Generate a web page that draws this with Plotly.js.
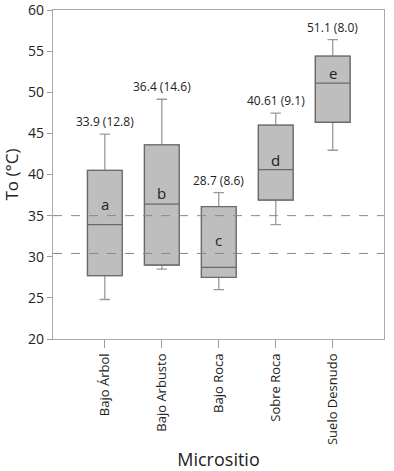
<!DOCTYPE html>
<html><head><meta charset="utf-8">
<script src="https://cdn.plot.ly/plotly-3.0.1.min.js"></script>
<style>html,body{margin:0;padding:0;background:#fff}#c{width:394px;height:471px}</style>
</head><body><div id="c"></div>
<script>
const categories = ["Bajo Árbol", "Bajo Arbusto", "Bajo Roca", "Sobre Roca", "Suelo Desnudo"];
const lowerWhisker = [24.8, 28.5, 26.0, 33.9, 42.95];
const q1 = [27.7, 29.0, 27.5, 36.9, 46.35];
const median = [33.9, 36.4, 28.7, 40.6, 51.1];
const q3 = [40.5, 43.6, 36.1, 46.0, 54.4];
const upperWhisker = [44.9, 49.15, 37.8, 47.45, 56.4];
const summaryLabels = ["33.9 (12.8)", "36.4 (14.6)", "28.7 (8.6)", "40.61 (9.1)", "51.1 (8.0)"];
const groupLetters = ["a", "b", "c", "d", "e"];
const letterY = [36.4, 37.8, 32.05, 41.8, 52.3];
const refLines = [35, 30.4];
const yTicks = [20, 25, 30, 35, 40, 45, 50, 55, 60];

const font = "Open Sans, Noto Sans, sans-serif";

const whiskerTrace = {
  type: "box", x: categories, q1: q1, median: median, q3: q3,
  lowerfence: lowerWhisker, upperfence: upperWhisker,
  fillcolor: "#bebebe", line: {color: "#9a9a9a", width: 1.3},
  whiskerwidth: 0.3, width: 0.61, boxpoints: false, hoverinfo: "skip", showlegend: false
};
const boxTrace = {
  type: "box", x: categories, q1: q1, median: median, q3: q3,
  lowerfence: q1, upperfence: q3,
  fillcolor: "#bebebe", line: {color: "#6a6a6a", width: 1.3},
  whiskerwidth: 0, width: 0.61, boxpoints: false, hoverinfo: "skip", showlegend: false
};

const annotations = [];
categories.forEach((c, i) => {
  annotations.push({x: c, y: upperWhisker[i], text: summaryLabels[i], showarrow: false,
    yanchor: "bottom", yshift: 2, font: {family: font, size: 12, color: "#222"}});
  annotations.push({x: c, y: letterY[i], text: groupLetters[i], showarrow: false,
    font: {family: font, size: 15, color: "#222"}});
});

const shapes = refLines.map(v => ({type: "line", xref: "paper", x0: 0, x1: 1, y0: v, y1: v,
  line: {color: "#888", width: 1, dash: "dash"}}));

const layout = {
  width: 394, height: 471,
  margin: {l: 53, r: 10, t: 10, b: 132},
  paper_bgcolor: "#fff", plot_bgcolor: "#fff",
  font: {family: font, color: "#222"},
  xaxis: {type: "category", categoryarray: categories, range: [-0.91, 4.9],
    tickangle: -90, ticks: "outside", ticklen: 8, tickcolor: "#999",
    showline: true, linecolor: "#aaa", linewidth: 1.3, mirror: true, showgrid: false,
    tickfont: {family: font, size: 13, color: "#222"},
    title: {text: "Micrositio", font: {family: font, size: 18, color: "#222"}, standoff: 12}},
  yaxis: {range: [20, 60], tickmode: "array", tickvals: yTicks, ticktext: yTicks.map(String),
    ticklabeloverflow: "allow",
    ticks: "outside", ticklen: 5, tickcolor: "#999",
    showline: true, linecolor: "#aaa", linewidth: 1.3, mirror: true, showgrid: false, zeroline: false,
    tickfont: {family: font, size: 14, color: "#222"},
    title: {text: "To (°C)", font: {family: font, size: 17, color: "#222"}, standoff: 6}},
  shapes: shapes, annotations: annotations, showlegend: false
};
Plotly.newPlot("c", [whiskerTrace, boxTrace], layout, {displayModeBar: false, staticPlot: true});
</script></body></html>
